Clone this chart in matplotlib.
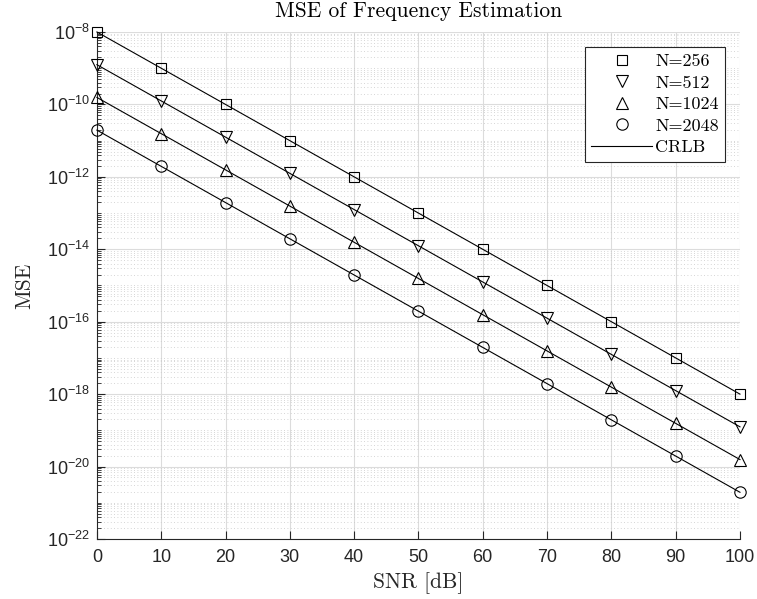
import matplotlib
matplotlib.use('Agg')
import matplotlib.pyplot as plt
import numpy as np
from matplotlib.ticker import FixedLocator, LogFormatterMathtext, NullFormatter

# MSE of the frequency estimator vs SNR, one series per record length N
snr_db = [0, 10, 20, 30, 40, 50, 60, 70, 80, 90, 100]

mse_256 = [1e-8, 1e-9, 1e-10, 1e-11, 1e-12, 1e-13, 1e-14, 1e-15, 1e-16, 1e-17, 1e-18]
mse_512 = [1.25e-9, 1.25e-10, 1.25e-11, 1.25e-12, 1.25e-13, 1.25e-14,
           1.25e-15, 1.25e-16, 1.25e-17, 1.25e-18, 1.25e-19]
mse_1024 = [1.56e-10, 1.56e-11, 1.56e-12, 1.56e-13, 1.56e-14, 1.56e-15,
            1.56e-16, 1.56e-17, 1.56e-18, 1.56e-19, 1.56e-20]
mse_2048 = [1.95e-11, 1.95e-12, 1.95e-13, 1.95e-14, 1.95e-15, 1.95e-16,
            1.95e-17, 1.95e-18, 1.95e-19, 1.95e-20, 1.95e-21]

series = [(mse_256, 's', 'N=256'),
          (mse_512, 'v', 'N=512'),
          (mse_1024, '^', 'N=1024'),
          (mse_2048, 'o', 'N=2048')]

plt.rcParams['font.family'] = ['Liberation Sans', 'DejaVu Sans']
plt.rcParams['mathtext.fontset'] = 'custom'
plt.rcParams['mathtext.rm'] = 'Liberation Sans'
plt.rcParams['mathtext.it'] = 'Liberation Sans:italic'
plt.rcParams['mathtext.bf'] = 'Liberation Sans:bold'

dark = (0.15, 0.15, 0.15)
serif = 'cmr10'

fig = plt.figure(figsize=(7.57, 5.99), dpi=100)
ax = fig.add_axes([0.128, 0.1002, 0.8495, 0.8464])

# CRLB curves (solid) under the simulated points
for vals, mk, lab in series:
    ax.plot(snr_db, vals, color='black', lw=0.8, clip_on=False, zorder=3,
            label='CRLB' if lab == 'N=256' else None)

marker_handles = []
for vals, mk, lab in series:
    ms = 7.5 if mk == 's' else 8.2
    h, = ax.plot(snr_db, vals, linestyle='none', marker=mk, markersize=ms,
                 markerfacecolor='none', markeredgecolor='black',
                 markeredgewidth=0.8, clip_on=False, zorder=4, label=lab)
    marker_handles.append(h)

ax.set_yscale('log')
ax.set_xlim(0, 100)
ax.set_ylim(1e-22, 1e-8)

ax.set_xticks(np.arange(0, 101, 10))
major_y = [10.0 ** e for e in range(-22, -7, 2)]
minor_y = [m * 10.0 ** e for e in range(-22, -8) for m in range(1, 10)]
minor_y = [v for v in minor_y if v not in major_y]
ax.yaxis.set_major_locator(FixedLocator(major_y))
ax.yaxis.set_major_formatter(LogFormatterMathtext())
ax.yaxis.set_minor_locator(FixedLocator(minor_y))
ax.yaxis.set_minor_formatter(NullFormatter())

ax.tick_params(axis='both', which='major', direction='in', length=6, width=0.8,
               color=dark, labelcolor=dark, labelsize=13)
ax.tick_params(axis='x', which='major', pad=7)
ax.tick_params(axis='y', which='major', pad=5)
ax.tick_params(axis='y', which='minor', direction='in', length=3, width=0.6, color=dark)
ax.tick_params(axis='x', which='minor', bottom=False)

for side in ['top', 'right']:
    ax.spines[side].set_visible(False)
for side in ['left', 'bottom']:
    ax.spines[side].set_color(dark)
    ax.spines[side].set_linewidth(0.8)

ax.grid(True, which='major', color='#dcdcdc', linewidth=0.8, linestyle='-', zorder=0)
ax.grid(True, which='minor', axis='y', color='#c8c8c8', linewidth=0.6,
        linestyle=(0, (1, 3)), zorder=0)
ax.set_axisbelow(True)

ax.set_title('MSE of Frequency Estimation', fontfamily=serif, fontsize=15.5,
             color='black', pad=10.5)
ax.set_xlabel('SNR [dB]', fontfamily=serif, fontsize=15.5, color=dark, labelpad=5)
ax.set_ylabel('MSE', fontfamily=serif, fontsize=15.5, color=dark, labelpad=9)

crlb_handle = ax.get_lines()[0]
leg = ax.legend(marker_handles + [crlb_handle],
                [h.get_label() for h in marker_handles] + ['CRLB'],
                loc='upper right', bbox_to_anchor=(0.9767, 0.9704), borderaxespad=0,
                prop={'family': serif, 'size': 13}, handlelength=3.4,
                handletextpad=0.15, labelspacing=0.33, borderpad=0.35,
                fancybox=False, framealpha=1, edgecolor=dark)
leg.get_frame().set_linewidth(0.8)

fig.savefig('out.png', dpi=100)
